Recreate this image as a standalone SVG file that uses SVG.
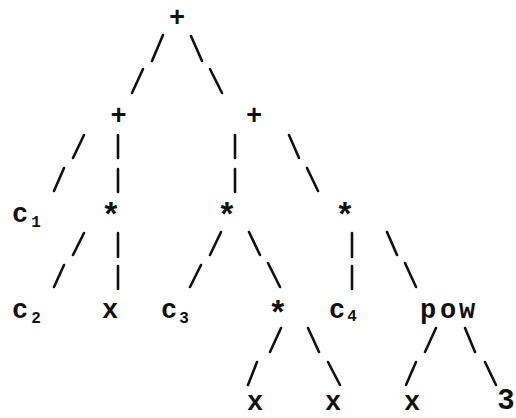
<svg xmlns="http://www.w3.org/2000/svg" width="516" height="418" viewBox="0 0 516 418">
  <style>
    .lbl { font-family: "Liberation Mono", "DejaVu Sans Mono", monospace; font-size: 27px; font-weight: bold; fill: #111; text-anchor: middle; }
    .star { font-family: "Liberation Mono", "DejaVu Sans Mono", monospace; font-size: 33px; font-weight: bold; fill: #111; text-anchor: middle; }
    .sub { font-family: "Liberation Mono", "DejaVu Sans Mono", monospace; font-size: 16px; font-weight: bold; fill: #111; text-anchor: middle; }
    .edge { fill: none; stroke: #111; stroke-width: 2.6; stroke-linecap: round; }
  </style>
  <rect width="516" height="418" fill="#fff"/>

  <!-- connectors: each edge drawn as two dashes -->
  <g id="connectors" class="edge">
    <path d="M163,35 L152,61 M143,69 L132,93"/>
    <path d="M191,36 L202,61 M210,69 L222,93"/>
    <path d="M84,135 L73,158 M64,168 L54,191"/>
    <path d="M118,135 L118,158 M118,169 L118,192"/>
    <path d="M235,135 L235,158 M235,169 L235,192"/>
    <path d="M289,135 L299,158 M307,168 L318,191"/>
    <path d="M84,233 L73,255 M64,265 L54,287"/>
    <path d="M118,233 L118,257 M118,266 L118,289"/>
    <path d="M221,232 L210,255 M201,265 L190,287"/>
    <path d="M249,232 L260,255 M268,263 L280,287"/>
    <path d="M352,233 L352,257 M352,266 L352,289"/>
    <path d="M387,232 L397,255 M405,263 L416,287"/>
    <path d="M281,328 L270,352 M257,362 L248,385"/>
    <path d="M308,328 L319,352 M328,362 L340,385"/>
    <path d="M436,328 L425,352 M416,362 L406,385"/>
    <path d="M465,328 L475,352 M485,362 L496,385"/>
  </g>

  <!-- nodes -->
  <g id="n-root"><text class="lbl" x="177" y="26">+</text></g>
  <g id="n-plus-left"><text class="lbl" x="118.5" y="124">+</text></g>
  <g id="n-plus-right"><text class="lbl" x="254" y="124">+</text></g>

  <g id="n-c1"><text class="lbl" x="20" y="222">c</text><text class="sub" x="36" y="227">1</text></g>
  <g id="n-mul-a"><text class="star" x="111" y="226">*</text></g>
  <g id="n-mul-b"><text class="star" x="227" y="226">*</text></g>
  <g id="n-mul-c"><text class="star" x="345" y="226">*</text></g>

  <g id="n-c2"><text class="lbl" x="20" y="318">c</text><text class="sub" x="36" y="323">2</text></g>
  <g id="n-x1"><text class="lbl" x="110" y="318">x</text></g>
  <g id="n-c3"><text class="lbl" x="169" y="318">c</text><text class="sub" x="184" y="323">3</text></g>
  <g id="n-mul-d"><text class="star" x="278" y="324">*</text></g>
  <g id="n-c4"><text class="lbl" x="337" y="318">c</text><text class="sub" x="352" y="321">4</text></g>
  <g id="n-pow"><text class="lbl" x="428 448 467" y="318">pow</text></g>

  <g id="n-x2"><text class="lbl" x="255" y="410">x</text></g>
  <g id="n-x3"><text class="lbl" x="333" y="410">x</text></g>
  <g id="n-x4"><text class="lbl" x="412" y="410">x</text></g>
  <g id="n-three"><text class="lbl" x="506" y="409" style="font-size:29px">3</text></g>
</svg>
